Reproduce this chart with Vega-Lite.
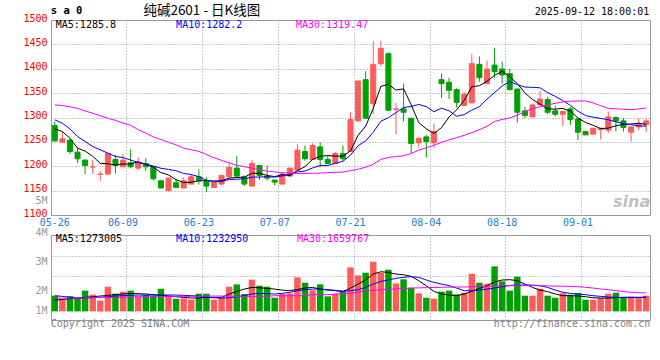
{
"$schema": "https://vega.github.io/schema/vega-lite/v6.json",
"autosize": {"type": "pad"},
"padding": {"left": 22, "top": 3, "right": 5, "bottom": 5},
"background": "white",
"bounds": "flush",
"spacing": 20,
"resolve": {"scale": {"y": "independent", "x": "independent"}},
"config": {
  "view": {"stroke": "#999999", "strokeWidth": 1},
  "font": "DejaVu Sans Mono",
  "text": {"font": "DejaVu Sans Mono", "fontSize": 10},
  "axis": {"labelFont": "DejaVu Sans Mono", "labelFontSize": 10, "ticks": false, "domain": false, "title": null, "gridColor": "#999999", "gridWidth": 1, "gridDash": [1, 2], "labelOverlap": false}
},
"data": {"values": [
{"d":"2025-05-26","o":1283.5,"h":1291.7,"l":1250.7,"c":1252,"v":1400000,"m5":1276.7,"m10":1295.1,"m30":1325.8,"vm5":1010000,"vm10":1400000,"vm30":1190000},
{"d":"2025-05-27","o":1249.4,"h":1269.8,"l":1249.4,"c":1256.2,"v":1070000,"m5":1271.2,"m10":1288.3,"m30":1324.5,"vm5":1070000,"vm10":1340000,"vm30":1190000},
{"d":"2025-05-28","o":1253.5,"h":1255,"l":1224.8,"c":1230.3,"v":1370000,"m5":1257.6,"m10":1276.7,"m30":1322,"vm5":1130000,"vm10":1250000,"vm30":1190000},
{"d":"2025-05-29","o":1228.9,"h":1237.1,"l":1206.4,"c":1215.3,"v":1130000,"m5":1237.1,"m10":1261,"m30":1318.5,"vm5":1190000,"vm10":1190000,"vm30":1190000},
{"d":"2025-05-30","o":1212.6,"h":1213.5,"l":1183.9,"c":1201.6,"v":1850000,"m5":1231.1,"m10":1250.8,"m30":1313.5,"vm5":1250000,"vm10":1190000,"vm30":1190000},
{"d":"2025-06-03","o":1198.5,"h":1213.2,"l":1184,"c":1199,"v":1490000,"m5":1220.5,"m10":1240.5,"m30":1308.7,"vm5":1310000,"vm10":1220000,"vm30":1250000},
{"d":"2025-06-04","o":1183.5,"h":1190.7,"l":1170.3,"c":1183.9,"v":950000,"m5":1206,"m10":1233.7,"m30":1303.5,"vm5":1370000,"vm10":1250000,"vm30":1250000},
{"d":"2025-06-05","o":1183.9,"h":1226.2,"l":1183.9,"c":1226.2,"v":2200000,"m5":1205.2,"m10":1226.9,"m30":1298.5,"vm5":1430000,"vm10":1310000,"vm30":1250000},
{"d":"2025-06-06","o":1213.9,"h":1223.5,"l":1185.3,"c":1201.6,"v":1580000,"m5":1202.5,"m10":1220,"m30":1294,"vm5":1490000,"vm10":1370000,"vm30":1250000},
{"d":"2025-06-09","o":1198.9,"h":1224.8,"l":1198.9,"c":1212.6,"v":1760000,"m5":1204.7,"m10":1217.9,"m30":1288.5,"vm5":1550000,"vm10":1400000,"vm30":1250000},
{"d":"2025-06-10","o":1207.1,"h":1234.4,"l":1196.2,"c":1198.9,"v":1850000,"m5":1204.6,"m10":1212.6,"m30":1284,"vm5":1610000,"vm10":1430000,"vm30":1310000},
{"d":"2025-06-11","o":1196.2,"h":1218,"l":1192,"c":1207.1,"v":1310000,"m5":1209.3,"m10":1207.7,"m30":1275,"vm5":1580000,"vm10":1460000,"vm30":1310000},
{"d":"2025-06-12","o":1205.7,"h":1216.6,"l":1190.7,"c":1198.9,"v":1460000,"m5":1203.8,"m10":1204.5,"m30":1268,"vm5":1550000,"vm10":1460000,"vm30":1310000},
{"d":"2025-06-13","o":1198.9,"h":1199.5,"l":1170.3,"c":1174.4,"v":1400000,"m5":1198.4,"m10":1200.5,"m30":1260,"vm5":1490000,"vm10":1460000,"vm30":1310000},
{"d":"2025-06-16","o":1170.3,"h":1170.3,"l":1155.3,"c":1155.3,"v":2020000,"m5":1186.9,"m10":1195.8,"m30":1255,"vm5":1430000,"vm10":1460000,"vm30":1310000},
{"d":"2025-06-17","o":1149.8,"h":1175.7,"l":1149.8,"c":1175.7,"v":1370000,"m5":1182.3,"m10":1193.5,"m30":1249,"vm5":1370000,"vm10":1460000,"vm30":1340000},
{"d":"2025-06-18","o":1166.2,"h":1174.4,"l":1156.6,"c":1156.6,"v":1130000,"m5":1172.2,"m10":1190.8,"m30":1243.9,"vm5":1310000,"vm10":1460000,"vm30":1340000},
{"d":"2025-06-19","o":1155.3,"h":1177.1,"l":1155.3,"c":1170.3,"v":1160000,"m5":1166.5,"m10":1185.2,"m30":1237,"vm5":1250000,"vm10":1430000,"vm30":1340000},
{"d":"2025-06-20","o":1163.4,"h":1183.9,"l":1163.4,"c":1178.4,"v":1040000,"m5":1167.3,"m10":1182.9,"m30":1233.7,"vm5":1190000,"vm10":1400000,"vm30":1340000},
{"d":"2025-06-23","o":1178.4,"h":1193.5,"l":1162.7,"c":1170.3,"v":1580000,"m5":1170.3,"m10":1178.6,"m30":1230.5,"vm5":1190000,"vm10":1370000,"vm30":1340000},
{"d":"2025-06-24","o":1168.9,"h":1177.1,"l":1147.1,"c":1159.3,"v":1580000,"m5":1170.5,"m10":1171.4,"m30":1224,"vm5":1250000,"vm10":1250000,"vm30":1370000},
{"d":"2025-06-25","o":1156.6,"h":1166.2,"l":1156.6,"c":1166.2,"v":1040000,"m5":1169.7,"m10":1168.1,"m30":1217.5,"vm5":1250000,"vm10":1220000,"vm30":1370000},
{"d":"2025-06-26","o":1163.4,"h":1181.2,"l":1160.7,"c":1181.2,"v":1250000,"m5":1170.3,"m10":1168.8,"m30":1212,"vm5":1250000,"vm10":1190000,"vm30":1370000},
{"d":"2025-06-27","o":1178.4,"h":1207.1,"l":1176,"c":1197.5,"v":2200000,"m5":1175.7,"m10":1173,"m30":1207,"vm5":1550000,"vm10":1220000,"vm30":1370000},
{"d":"2025-06-30","o":1196.2,"h":1220.7,"l":1178.4,"c":1179.8,"v":2410000,"m5":1176.8,"m10":1173.4,"m30":1202,"vm5":1790000,"vm10":1310000,"vm30":1340000},
{"d":"2025-07-01","o":1178.4,"h":1181.2,"l":1159.3,"c":1163.4,"v":1550000,"m5":1177.6,"m10":1174.1,"m30":1199,"vm5":1990000,"vm10":1400000,"vm30":1340000},
{"d":"2025-07-02","o":1159.3,"h":1212.6,"l":1159.3,"c":1205.7,"v":2830000,"m5":1185.5,"m10":1177.6,"m30":1196.2,"vm5":2140000,"vm10":1550000,"vm30":1340000},
{"d":"2025-07-03","o":1201.6,"h":1201.6,"l":1171.6,"c":1181.2,"v":2290000,"m5":1185.5,"m10":1177.9,"m30":1193,"vm5":2110000,"vm10":1610000,"vm30":1340000},
{"d":"2025-07-04","o":1179.8,"h":1201.6,"l":1170.3,"c":1175.7,"v":2200000,"m5":1181.2,"m10":1178.5,"m30":1190,"vm5":2050000,"vm10":1580000,"vm30":1340000},
{"d":"2025-07-07","o":1171.6,"h":1171.6,"l":1160.7,"c":1167.6,"v":1220000,"m5":1178.7,"m10":1177.8,"m30":1188.5,"vm5":1990000,"vm10":1550000,"vm30":1400000},
{"d":"2025-07-08","o":1163.4,"h":1188,"l":1163.4,"c":1183.9,"v":1550000,"m5":1182.8,"m10":1180.2,"m30":1186.5,"vm5":1900000,"vm10":1610000,"vm30":1400000},
{"d":"2025-07-09","o":1179.8,"h":1196.2,"l":1178.4,"c":1196.2,"v":1610000,"m5":1180.9,"m10":1183.2,"m30":1186,"vm5":1850000,"vm10":1700000,"vm30":1400000},
{"d":"2025-07-10","o":1192.1,"h":1245.3,"l":1192.1,"c":1233,"v":3040000,"m5":1191.3,"m10":1188.4,"m30":1185.3,"vm5":1960000,"vm10":1850000,"vm30":1400000},
{"d":"2025-07-11","o":1230.3,"h":1242.6,"l":1211.2,"c":1215.3,"v":2560000,"m5":1199.2,"m10":1190.2,"m30":1185.3,"vm5":2080000,"vm10":1930000,"vm30":1400000},
{"d":"2025-07-14","o":1213.9,"h":1246.7,"l":1213.9,"c":1242.6,"v":1880000,"m5":1214.2,"m10":1196.5,"m30":1185.5,"vm5":2140000,"vm10":1990000,"vm30":1490000},
{"d":"2025-07-15","o":1239.8,"h":1249.4,"l":1197.5,"c":1213.9,"v":2410000,"m5":1220.2,"m10":1201.5,"m30":1186,"vm5":1990000,"vm10":1990000,"vm30":1490000},
{"d":"2025-07-16","o":1213.9,"h":1222,"l":1205.7,"c":1205.7,"v":1340000,"m5":1222.1,"m10":1201.5,"m30":1187,"vm5":1900000,"vm10":1930000,"vm30":1490000},
{"d":"2025-07-17","o":1205.7,"h":1229,"l":1205.7,"c":1226.2,"v":1550000,"m5":1220.7,"m10":1206,"m30":1187.5,"vm5":1850000,"vm10":1880000,"vm30":1550000},
{"d":"2025-07-18","o":1226.2,"h":1242.6,"l":1211.2,"c":1215.3,"v":1850000,"m5":1220.7,"m10":1210,"m30":1188,"vm5":1760000,"vm10":1790000,"vm30":1580000},
{"d":"2025-07-21","o":1230.3,"h":1310.8,"l":1230.3,"c":1295.8,"v":3930000,"m5":1231.4,"m10":1222.8,"m30":1191,"vm5":2080000,"vm10":1850000,"vm30":1640000},
{"d":"2025-07-22","o":1293,"h":1374.9,"l":1291.7,"c":1374.9,"v":3210000,"m5":1263.6,"m10":1241.9,"m30":1194,"vm5":2440000,"vm10":1930000,"vm30":1720000},
{"d":"2025-07-23","o":1377.6,"h":1395.4,"l":1298.5,"c":1298.5,"v":3450000,"m5":1282.1,"m10":1252.1,"m30":1198,"vm5":2800000,"vm10":2140000,"vm30":1820000},
{"d":"2025-07-24","o":1328.5,"h":1456.8,"l":1306.7,"c":1409,"v":4430000,"m5":1318.7,"m10":1269.7,"m30":1204,"vm5":3330000,"vm10":2440000,"vm30":1880000},
{"d":"2025-07-25","o":1410.4,"h":1456.8,"l":1404.9,"c":1441.7,"v":3450000,"m5":1364,"m10":1292.4,"m30":1214,"vm5":3540000,"vm10":2680000,"vm30":1930000},
{"d":"2025-07-28","o":1430.8,"h":1433.6,"l":1314.9,"c":1314.9,"v":3720000,"m5":1367.8,"m10":1299.6,"m30":1218,"vm5":3480000,"vm10":2800000,"vm30":1970000},
{"d":"2025-07-29","o":1317,"h":1329.9,"l":1265.8,"c":1317.6,"v":2500000,"m5":1356.3,"m10":1310,"m30":1220,"vm5":3330000,"vm10":2950000,"vm30":2000000},
{"d":"2025-07-30","o":1317.6,"h":1369.4,"l":1291.7,"c":1310.8,"v":2860000,"m5":1358.8,"m10":1320.5,"m30":1221.4,"vm5":3270000,"vm10":3040000,"vm30":2050000},
{"d":"2025-07-31","o":1298.5,"h":1298.5,"l":1226.2,"c":1246.7,"v":2110000,"m5":1326.3,"m10":1322.5,"m30":1226,"vm5":3130000,"vm10":3100000,"vm30":2080000},
{"d":"2025-08-01","o":1248,"h":1257.6,"l":1238.5,"c":1257.6,"v":1610000,"m5":1289.5,"m10":1326.8,"m30":1233,"vm5":2740000,"vm10":3040000,"vm30":2100000},
{"d":"2025-08-04","o":1260.3,"h":1264.4,"l":1218,"c":1250.8,"v":1220000,"m5":1276.7,"m10":1322.3,"m30":1238,"vm5":2290000,"vm10":2800000,"vm30":2120000},
{"d":"2025-08-05","o":1248,"h":1287.6,"l":1237.1,"c":1271.2,"v":1130000,"m5":1267.4,"m10":1311.9,"m30":1243,"vm5":1790000,"vm10":2590000,"vm30":2140000},
{"d":"2025-08-06","o":1377.6,"h":1389.9,"l":1339.4,"c":1369.4,"v":1760000,"m5":1279.1,"m10":1319,"m30":1249,"vm5":1550000,"vm10":2440000,"vm30":2150000},
{"d":"2025-08-07","o":1372.2,"h":1381.7,"l":1338,"c":1355.8,"v":1850000,"m5":1301,"m10":1313.7,"m30":1254,"vm5":1460000,"vm10":2290000,"vm30":2160000},
{"d":"2025-08-08","o":1357.2,"h":1359.9,"l":1320.3,"c":1331.2,"v":1520000,"m5":1315.7,"m10":1302.6,"m30":1258.5,"vm5":1400000,"vm10":2080000,"vm30":2170000},
{"d":"2025-08-11","o":1324.4,"h":1351.7,"l":1324.4,"c":1347.6,"v":1670000,"m5":1335,"m10":1305.9,"m30":1263.5,"vm5":1550000,"vm10":1850000,"vm30":2180000},
{"d":"2025-08-12","o":1329.9,"h":1430.8,"l":1329.9,"c":1410.4,"v":3360000,"m5":1362.9,"m10":1315.2,"m30":1269,"vm5":1790000,"vm10":1850000,"vm30":2200000},
{"d":"2025-08-13","o":1409,"h":1425.4,"l":1373.5,"c":1381.7,"v":2560000,"m5":1365.3,"m10":1322.2,"m30":1275,"vm5":2050000,"vm10":1900000,"vm30":2220000},
{"d":"2025-08-14","o":1369.4,"h":1417.2,"l":1369.4,"c":1399.5,"v":2470000,"m5":1374.1,"m10":1337.6,"m30":1282,"vm5":2290000,"vm10":1990000,"vm30":2250000},
{"d":"2025-08-15","o":1407.6,"h":1443.1,"l":1381.7,"c":1394,"v":4020000,"m5":1386.6,"m10":1351.2,"m30":1292,"vm5":2620000,"vm10":2080000,"vm30":2270000},
{"d":"2025-08-18","o":1399.5,"h":1414.5,"l":1369.4,"c":1387.2,"v":2680000,"m5":1394.6,"m10":1364.8,"m30":1296,"vm5":2800000,"vm10":2200000,"vm30":2290000},
{"d":"2025-08-19","o":1389.9,"h":1399.5,"l":1355.8,"c":1357.2,"v":1850000,"m5":1383.9,"m10":1373.4,"m30":1299,"vm5":2830000,"vm10":2320000,"vm30":2290000},
{"d":"2025-08-20","o":1358.5,"h":1358.5,"l":1289,"c":1310.8,"v":3100000,"m5":1369.7,"m10":1367.5,"m30":1305,"vm5":2740000,"vm10":2350000,"vm30":2290000},
{"d":"2025-08-21","o":1313.5,"h":1321.7,"l":1298.5,"c":1304,"v":1400000,"m5":1350.6,"m10":1362.4,"m30":1312,"vm5":2440000,"vm10":2350000,"vm30":2290000},
{"d":"2025-08-22","o":1301.2,"h":1327.2,"l":1301.2,"c":1325.8,"v":1400000,"m5":1337,"m10":1361.8,"m30":1318,"vm5":2140000,"vm10":2350000,"vm30":2290000},
{"d":"2025-08-25","o":1325.8,"h":1354.4,"l":1325.8,"c":1338,"v":2020000,"m5":1327.2,"m10":1360.9,"m30":1322,"vm5":1900000,"vm10":2290000,"vm30":2290000},
{"d":"2025-08-26","o":1336.7,"h":1342.2,"l":1306.7,"c":1310.8,"v":1400000,"m5":1317.9,"m10":1350.9,"m30":1326,"vm5":1760000,"vm10":2140000,"vm30":2280000},
{"d":"2025-08-27","o":1313.5,"h":1324.4,"l":1302.6,"c":1306.7,"v":1220000,"m5":1317.1,"m10":1343.4,"m30":1329,"vm5":1550000,"vm10":1900000,"vm30":2260000},
{"d":"2025-08-28","o":1306.7,"h":1312.1,"l":1282.1,"c":1312.1,"v":1610000,"m5":1318.7,"m10":1334.7,"m30":1332,"vm5":1400000,"vm10":1700000,"vm30":2250000},
{"d":"2025-08-29","o":1317.6,"h":1321.7,"l":1284.8,"c":1295.8,"v":1490000,"m5":1312.7,"m10":1324.9,"m30":1333.5,"vm5":1400000,"vm10":1610000,"vm30":2230000},
{"d":"2025-09-01","o":1297.1,"h":1297.1,"l":1253.5,"c":1269.8,"v":1640000,"m5":1299,"m10":1313.1,"m30":1334,"vm5":1370000,"vm10":1550000,"vm30":2200000},
{"d":"2025-09-02","o":1271.2,"h":1271.2,"l":1264.4,"c":1264.4,"v":1040000,"m5":1289.8,"m10":1303.9,"m30":1334,"vm5":1310000,"vm10":1490000,"vm30":2150000},
{"d":"2025-09-03","o":1265.8,"h":1278,"l":1265.8,"c":1278,"v":1040000,"m5":1284,"m10":1300.6,"m30":1330,"vm5":1220000,"vm10":1400000,"vm30":2080000},
{"d":"2025-09-04","o":1275.3,"h":1279.4,"l":1254.8,"c":1278,"v":1190000,"m5":1277.2,"m10":1298,"m30":1324,"vm5":1190000,"vm10":1340000,"vm30":2000000},
{"d":"2025-09-05","o":1274,"h":1312.1,"l":1268.5,"c":1301.2,"v":1580000,"m5":1278.3,"m10":1295.5,"m30":1319,"vm5":1190000,"vm10":1280000,"vm30":1930000},
{"d":"2025-09-08","o":1299.9,"h":1302.6,"l":1271.2,"c":1293,"v":1670000,"m5":1282.9,"m10":1291,"m30":1318,"vm5":1220000,"vm10":1250000,"vm30":1850000},
{"d":"2025-09-09","o":1293,"h":1298.5,"l":1271.2,"c":1279.4,"v":1220000,"m5":1285.9,"m10":1287.9,"m30":1317,"vm5":1250000,"vm10":1250000,"vm30":1770000},
{"d":"2025-09-10","o":1269.8,"h":1280.8,"l":1250.8,"c":1280.8,"v":1310000,"m5":1286.5,"m10":1285.3,"m30":1316,"vm5":1250000,"vm10":1250000,"vm30":1700000},
{"d":"2025-09-11","o":1280.8,"h":1297.1,"l":1274,"c":1287.6,"v":1280000,"m5":1288.4,"m10":1282.8,"m30":1317.5,"vm5":1250000,"vm10":1250000,"vm30":1660000},
{"d":"2025-09-12","o":1284.9,"h":1297.1,"l":1269.8,"c":1293,"v":1400000,"m5":1285.8,"m10":1282.2,"m30":1319.47,"vm5":1273005,"vm10":1232950,"vm30":1659767}
]},
"vconcat": [
{
  "width": 599, "height": 195,
  "layer": [
    {"mark": {"type": "rule", "strokeWidth": 1},
     "encoding": {
       "x": {"field": "d", "type": "ordinal", "scale": {"type": "band", "paddingInner": 0, "paddingOuter": 0},
             "axis": {"values": ["2025-05-26","2025-06-09","2025-06-23","2025-07-07","2025-07-21","2025-08-04","2025-08-18","2025-09-01"],
                      "labelExpr": "substring(datum.value, 5)", "bandPosition": 1, "labelAngle": 0, "labelColor": "#1a80d8", "labelPadding": 2, "labelOverlap": false,
                      "grid": true, "gridOpacity": {"condition": {"test": "datum.value === '2025-05-26'", "value": 0}, "value": 1}}},
       "y": {"field": "l", "type": "quantitative", "scale": {"domain": [1100, 1500], "nice": false, "zero": false},
             "axis": {"values": [1100, 1126.6, 1150, 1200, 1250, 1300, 1350, 1400, 1450, 1500], "tickCount": 30,
                      "labelExpr": "datum.value > 1120 && datum.value < 1130 ? '5M' : format(datum.value, 'd')",
                      "labelColor": {"condition": {"test": "datum.value > 1120 && datum.value < 1130", "value": "#999999"}, "value": "#ff0000"},
                      "labelPadding": 4, "labelBaseline": "middle", "labelOffset": -2, "labelFlush": false, "labelOverlap": false, "labelBound": false,
                      "grid": true, "gridOpacity": {"condition": {"test": "datum.value < 1140 || datum.value > 1490", "value": 0}, "value": 1}}},
       "y2": {"field": "h"},
       "color": {"condition": {"test": "datum.c >= datum.o", "value": "#ff5b5b"}, "value": "#00a000"}
     }},
    {"mark": {"type": "bar", "width": {"band": 0.66}, "strokeWidth": 1},
     "encoding": {
       "x": {"field": "d", "type": "ordinal"},
       "y": {"field": "o", "type": "quantitative"},
       "y2": {"field": "c"},
       "fill": {"condition": {"test": "datum.c >= datum.o", "value": "#ff5b5b"}, "value": "#00a000"},
       "stroke": {"condition": {"test": "datum.c >= datum.o", "value": "#ff5b5b"}, "value": "#00a000"}
     }},
    {"mark": {"type": "line", "color": "#000000", "strokeWidth": 1},
     "encoding": {"x": {"field": "d", "type": "ordinal"}, "y": {"field": "m5", "type": "quantitative"}}},
    {"mark": {"type": "line", "color": "#0000ff", "strokeWidth": 1},
     "encoding": {"x": {"field": "d", "type": "ordinal"}, "y": {"field": "m10", "type": "quantitative"}}},
    {"mark": {"type": "line", "color": "#ff00ff", "strokeWidth": 1},
     "encoding": {"x": {"field": "d", "type": "ordinal"}, "y": {"field": "m30", "type": "quantitative"}}},
    {"data": {"values": [{}]},
     "mark": {"type": "text", "text": "s a 0", "fontWeight": "bold", "fontSize": 10.5, "align": "left", "baseline": "middle", "dx": -4, "color": "#000000"},
     "encoding": {"x": {"datum": "2025-05-26", "type": "ordinal"}, "y": {"datum": 1518.5}}},
    {"data": {"values": [{}]},
     "mark": {"type": "text", "text": "纯碱2601 - 日K线图", "font": "Noto Sans CJK SC", "fontSize": 13.5, "align": "center", "baseline": "middle", "dx": 3, "color": "#000000"},
     "encoding": {"x": {"datum": "2025-06-23", "type": "ordinal"}, "y": {"datum": 1518.5}}},
    {"data": {"values": [{}]},
     "mark": {"type": "text", "text": "2025-09-12 18:00:01", "fontSize": 10, "align": "right", "baseline": "middle", "dx": 3, "color": "#000000"},
     "encoding": {"x": {"datum": "2025-09-12", "type": "ordinal"}, "y": {"datum": 1517}}},
    {"data": {"values": [{}]},
     "mark": {"type": "text", "text": "MA5:1285.8", "align": "left", "baseline": "middle", "dx": 1, "color": "#000000"},
     "encoding": {"x": {"datum": "2025-05-26", "type": "ordinal"}, "y": {"datum": 1489.7}}},
    {"data": {"values": [{}]},
     "mark": {"type": "text", "text": "MA10:1282.2", "align": "left", "baseline": "middle", "dx": 0, "color": "#0000ff"},
     "encoding": {"x": {"datum": "2025-06-18", "type": "ordinal"}, "y": {"datum": 1489.7}}},
    {"data": {"values": [{}]},
     "mark": {"type": "text", "text": "MA30:1319.47", "align": "left", "baseline": "middle", "dx": -1.5, "color": "#ff00ff"},
     "encoding": {"x": {"datum": "2025-07-10", "type": "ordinal"}, "y": {"datum": 1489.7}}},
    {"data": {"values": [{}]},
     "mark": {"type": "text", "text": "sina", "font": "DejaVu Sans", "fontSize": 16, "fontWeight": "bold", "fontStyle": "italic", "align": "right", "baseline": "middle", "dx": 4, "color": "#b0b0b0", "opacity": 0.8},
     "encoding": {"x": {"datum": "2025-09-12", "type": "ordinal"}, "y": {"datum": 1127}}}
  ]
},
{
  "width": 599, "height": 85,
  "layer": [
    {"mark": {"type": "bar", "width": {"band": 0.85}},
     "encoding": {
       "x": {"field": "d", "type": "ordinal", "scale": {"type": "band", "paddingInner": 0, "paddingOuter": 0},
             "axis": {"values": ["2025-05-26","2025-06-09","2025-06-23","2025-07-07","2025-07-21","2025-08-04","2025-08-18","2025-09-01"],
                      "labels": false, "bandPosition": 1,
                      "grid": true, "gridOpacity": {"condition": {"test": "datum.value === '2025-05-26'", "value": 0}, "value": 1}}},
       "y": {"field": "v", "type": "quantitative", "scale": {"domain": [-770000, 6820000], "nice": false, "zero": false},
             "axis": {"values": [6770000, 4910000, 4460000, 3125000, 1850000, 60000], "tickCount": 30,
                      "labelExpr": "datum.value > 6000000 ? '4M' : (datum.value > 4200000 && datum.value < 4700000) ? '3M' : (datum.value > 1800000 && datum.value < 1900000) ? '2M' : datum.value < 100000 ? '1M' : ''",
                      "labelColor": "#999999", "labelPadding": 4, "labelOverlap": false, "labelBound": false,
                      "labelBaseline": {"condition": {"test": "datum.value > 6000000", "value": "alphabetic"}, "value": "middle"},
                      "labelFlush": false,
                      "grid": true, "gridOpacity": {"condition": {"test": "datum.value == 4910000 || datum.value == 3125000", "value": 1}, "value": 0}}},
       "y2": {"datum": 0},
       "color": {"condition": {"test": "datum.c >= datum.o", "value": "#ff5b5b"}, "value": "#00a000"}
     }},
    {"mark": {"type": "line", "color": "#000000", "strokeWidth": 1},
     "encoding": {"x": {"field": "d", "type": "ordinal"}, "y": {"field": "vm5", "type": "quantitative"}}},
    {"mark": {"type": "line", "color": "#0000ff", "strokeWidth": 1},
     "encoding": {"x": {"field": "d", "type": "ordinal"}, "y": {"field": "vm10", "type": "quantitative"}}},
    {"mark": {"type": "line", "color": "#ff00ff", "strokeWidth": 1},
     "encoding": {"x": {"field": "d", "type": "ordinal"}, "y": {"field": "vm30", "type": "quantitative"}}},
    {"data": {"values": [{}]},
     "mark": {"type": "text", "text": "MA5:1273005", "align": "left", "baseline": "middle", "dx": 1, "color": "#000000"},
     "encoding": {"x": {"datum": "2025-05-26", "type": "ordinal"}, "y": {"datum": 6460000}}},
    {"data": {"values": [{}]},
     "mark": {"type": "text", "text": "MA10:1232950", "align": "left", "baseline": "middle", "dx": 0, "color": "#0000ff"},
     "encoding": {"x": {"datum": "2025-06-18", "type": "ordinal"}, "y": {"datum": 6460000}}},
    {"data": {"values": [{}]},
     "mark": {"type": "text", "text": "MA30:1659767", "align": "left", "baseline": "middle", "dx": -0.5, "color": "#ff00ff"},
     "encoding": {"x": {"datum": "2025-07-10", "type": "ordinal"}, "y": {"datum": 6460000}}},
    {"data": {"values": [{}]},
     "mark": {"type": "text", "text": "Copyright 2025 SINA.COM", "align": "left", "baseline": "middle", "dx": -4, "color": "#808080"},
     "encoding": {"x": {"datum": "2025-05-26", "type": "ordinal"}, "y": {"datum": -1125000}}},
    {"data": {"values": [{}]},
     "mark": {"type": "text", "text": "http://finance.sina.com.cn", "align": "right", "baseline": "middle", "dx": 4, "color": "#808080"},
     "encoding": {"x": {"datum": "2025-09-12", "type": "ordinal"}, "y": {"datum": -1125000}}}
  ]
}
]
}
